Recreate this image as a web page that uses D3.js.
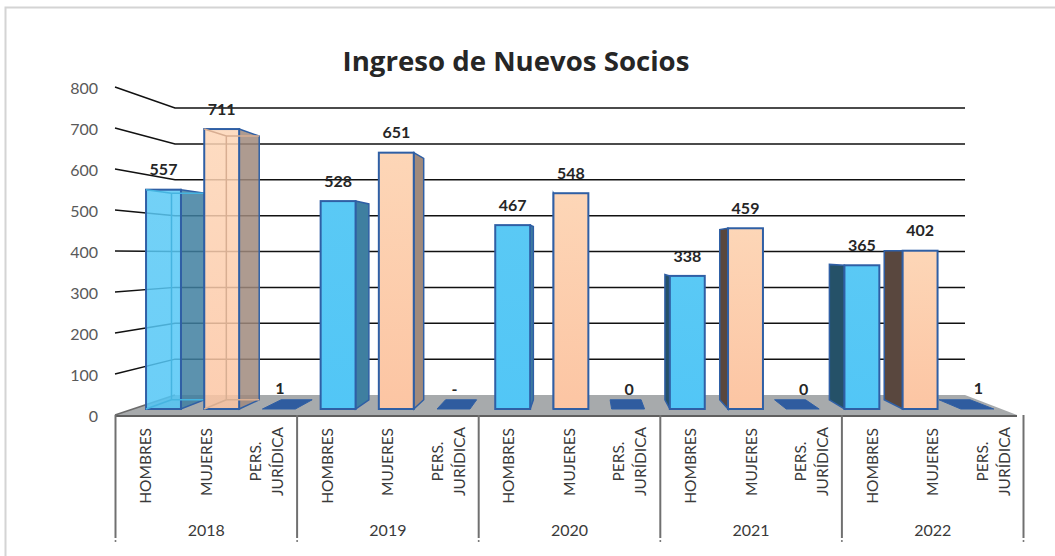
<!DOCTYPE html>
<html>
<head>
<meta charset="utf-8">
<script src="https://cdn.jsdelivr.net/npm/d3@7"></script>
<style>
  html, body { margin: 0; padding: 0; background: #fff; overflow: hidden; }
  svg { display: block; }
  text { font-family: Lato, "Open Sans", sans-serif; }
</style>
</head>
<body>
<script>
const years = ["2018", "2019", "2020", "2021", "2022"]
const hombres = [557, 528, 467, 338, 365]
const mujeres = [711, 651, 548, 459, 402]
const persJuridica = [1, null, 0, 0, 1]
const yTicks = [0, 100, 200, 300, 400, 500, 600, 700, 800]

// flatten into one row per bar
var data = []
years.forEach(function(year, i) {
    data.push({id: year + "-H", year: year, type: "H", value: hombres[i]})
    data.push({id: year + "-M", year: year, type: "M", value: mujeres[i]})
    data.push({id: year + "-P", year: year, type: "P", value: persJuridica[i]})
})

var width = 1055, height = 556

var svg = d3.select("body").append("svg")
    .attr("width", width)
    .attr("height", height)

// frame, only the top and left edges are inside the picture
svg.append("path")
    .attr("d", "M1055,7.5H5.5V556")
    .attr("fill", "none")
    .attr("stroke", "#d4d4d4")
    .attr("stroke-width", 2)

var defs = svg.append("defs")
function gradient(id, top, bottom) {
    var g = defs.append("linearGradient").attr("id", id).attr("x1", 0).attr("x2", 0).attr("y1", 0).attr("y2", 1)
    g.append("stop").attr("offset", "0%").attr("stop-color", top)
    g.append("stop").attr("offset", "100%").attr("stop-color", bottom)
}
gradient("blue", "#5ac9f5", "#52c6f6")
gradient("peach", "#fdd6b7", "#fcc5a3")

// one value scale for each depth of the 3d box
var yFront = d3.scaleLinear().domain([0, 800]).range([415, 87])
var yBar = d3.scaleLinear().domain([0, 800]).range([409, 94])
var yBack = d3.scaleLinear().domain([0, 800]).range([395, 108])

var xBar = d3.scaleBand()
    .domain(data.map(function(d) { return d.id }))
    .range([134.4, 1007.4])
    .paddingInner(0.4)
    .paddingOuter(0.2)

// the axis below the floor has its own spacing, wider than the bars
var xYear = d3.scaleBand().domain(years).range([115.5, 1023.5])
var xType = d3.scaleBand().domain(["H", "M", "P"]).range([0, xYear.bandwidth()])

// bar depth goes toward this vanishing point
var vanish = {x: 585, y: 250}, depth = 0.058
function back(x, y) {
    return [x + depth * (vanish.x - x), y + depth * (vanish.y - y)]
}

var boxLeft = 175, boxRight = 965, frontLeft = 115, frontRight = 1017

// floor
svg.append("polygon")
    .attr("points", [[frontLeft, yFront(0)], [boxLeft, yBack(0)], [boxRight, yBack(0)], [frontRight, yFront(0)]].join(" "))
    .attr("fill", "#a7aaac")

// gridlines with the slanted part on the left wall
svg.append("g").selectAll("path")
    .data(yTicks)
    .enter().append("path")
    .attr("d", function(d) {
        if (d == 0) return "M" + frontLeft + "," + yFront(0) + "L" + boxLeft + "," + yBack(0)
        return "M" + frontLeft + "," + yFront(d) + "L" + boxLeft + "," + yBack(d) + "L" + boxRight + "," + yBack(d)
    })
    .attr("fill", "none")
    .attr("stroke", function(d) { return d == 0 ? "#6b6b6b" : "#111" })
    .attr("stroke-width", 1.5)

// y labels
svg.append("g").selectAll("text")
    .data(yTicks)
    .enter().append("text")
    .attr("x", 98)
    .attr("y", function(d) { return yFront(d) + 1 })
    .attr("dy", "0.35em")
    .attr("text-anchor", "end")
    .attr("font-size", "16px")
    .attr("fill", "#595959")
    .text(function(d) { return d })

var sideColor = {
    H: {left: "#255168", right: "#3f7fa0"},
    M: {left: "#59473e", right: "#a08a7c"}
}
var edge = "#2f5fa5"

var bars = svg.append("g").selectAll("g")
    .data(data)
    .enter().append("g")

// flat markers for pers. juridica
bars.filter(function(d) { return d.type == "P" }).append("polygon")
    .attr("points", function(d) {
        var x0 = xBar(d.id), x1 = x0 + xBar.bandwidth(), y = yBar(0)
        return [[x0, y], [x1 - 2, y], back(x1 - 2, y), back(x0, y)].join(" ")
    })
    .attr("fill", "#2f5c9f")
    .attr("stroke", edge)

var solid = bars.filter(function(d) { return d.type != "P" })

// side face, left or right of the bar depending on the vanishing point
solid.append("polygon")
    .attr("points", function(d) {
        var x0 = xBar(d.id), x1 = x0 + xBar.bandwidth()
        var sx = x1 < vanish.x ? x1 : x0
        return [[sx, yBar(d.value)], back(sx, yBar(d.value)), back(sx, yBar(0)), [sx, yBar(0)]].join(" ")
    })
    .attr("fill", function(d) {
        return sideColor[d.type][xBar(d.id) + xBar.bandwidth() < vanish.x ? "right" : "left"]
    })
    .attr("fill-opacity", function(d) { return d.year == "2018" ? 0.85 : 1 })
    .attr("stroke", edge)
    .attr("stroke-width", 1.5)

solid.append("rect")
    .attr("x", function(d) { return xBar(d.id) })
    .attr("y", function(d) { return yBar(d.value) })
    .attr("width", xBar.bandwidth())
    .attr("height", function(d) { return yBar(0) - yBar(d.value) })
    .attr("fill", function(d) { return d.type == "H" ? "url(#blue)" : "url(#peach)" })
    .attr("fill-opacity", function(d) { return d.year == "2018" ? 0.85 : 1 })
    .attr("stroke", edge)
    .attr("stroke-width", 2)

// inner back edges show through the 2018 bars
solid.filter(function(d) { return d.year == "2018" }).append("path")
    .attr("d", function(d) {
        var x0 = xBar(d.id), x1 = x0 + xBar.bandwidth(), top = yBar(d.value), y0 = yBar(0)
        var a = back(x0, top), b = back(x1, top), c = back(x1, y0), e = back(x0, y0)
        return "M" + [x0, top] + "L" + a + "L" + b + "M" + a + "L" + e + "L" + c + "M" + [x0, y0] + "L" + e
    })
    .attr("fill", "none")
    .attr("stroke", function(d) { return d.type == "H" ? "#46b4e0" : "#d8ae92" })
    .attr("stroke-width", 1.5)

// value labels
svg.append("g").selectAll("text")
    .data(data)
    .enter().append("text")
    .attr("x", function(d) { return xBar(d.id) + xBar.bandwidth() / 2 })
    .attr("y", function(d) { return yBar(d.value || 0) - 20 })
    .attr("dy", "0.35em")
    .attr("text-anchor", "middle")
    .attr("font-size", "16px")
    .attr("font-weight", "bold")
    .attr("fill", "#262626")
    .text(function(d) { return d.value === null ? "-" : d.value })

// category axis
svg.append("line")
    .attr("x1", frontLeft).attr("x2", frontRight)
    .attr("y1", yFront(0) + 1).attr("y2", yFront(0) + 1)
    .attr("stroke", "#5f5f5f")
    .attr("stroke-width", 2)

var seps = years.map(function(y) { return xYear(y) }).concat([xYear.range()[1]])
svg.append("g").selectAll("line")
    .data(seps)
    .enter().append("line")
    .attr("x1", function(d) { return d }).attr("x2", function(d) { return d })
    .attr("y1", 415).attr("y2", 538)
    .attr("stroke", "#707070")
    .attr("stroke-width", 2)
svg.append("g").selectAll("circle")
    .data(seps)
    .enter().append("circle")
    .attr("cx", function(d) { return d }).attr("cy", 541).attr("r", 1)
    .attr("fill", "#707070")

function rotated(x, y, anchor, label) {
    svg.append("text")
        .attr("transform", "translate(" + x + "," + y + ") rotate(-90)")
        .attr("dy", "0.35em")
        .attr("text-anchor", anchor)
        .attr("font-size", "15.5px")
        .attr("fill", "#3a3a3a")
        .text(label)
}
data.forEach(function(d) {
    var cx = xYear(d.year) + xType(d.type) + xType.bandwidth() / 2
    if (d.type == "H") rotated(cx, 428, "end", "HOMBRES")
    if (d.type == "M") rotated(cx, 428, "end", "MUJERES")
    if (d.type == "P") {
        rotated(cx - 11, 461.5, "middle", "PERS.")
        rotated(cx + 11, 461.5, "middle", "JURÍDICA")
    }
})

svg.append("g").selectAll("text")
    .data(years)
    .enter().append("text")
    .attr("x", function(d) { return xYear(d) + xYear.bandwidth() / 2 })
    .attr("y", 530)
    .attr("dy", "0.35em")
    .attr("text-anchor", "middle")
    .attr("font-size", "16px")
    .attr("fill", "#3a3a3a")
    .text(function(d) { return d })

svg.append("text")
    .attr("x", 516)
    .attr("y", 71)
    .attr("text-anchor", "middle")
    .style("font-family", "'Open Sans', sans-serif")
    .attr("font-size", "27.6px")
    .attr("font-weight", "bold")
    .attr("fill", "#262626")
    .text("Ingreso de Nuevos Socios")
</script>
</body>
</html>
